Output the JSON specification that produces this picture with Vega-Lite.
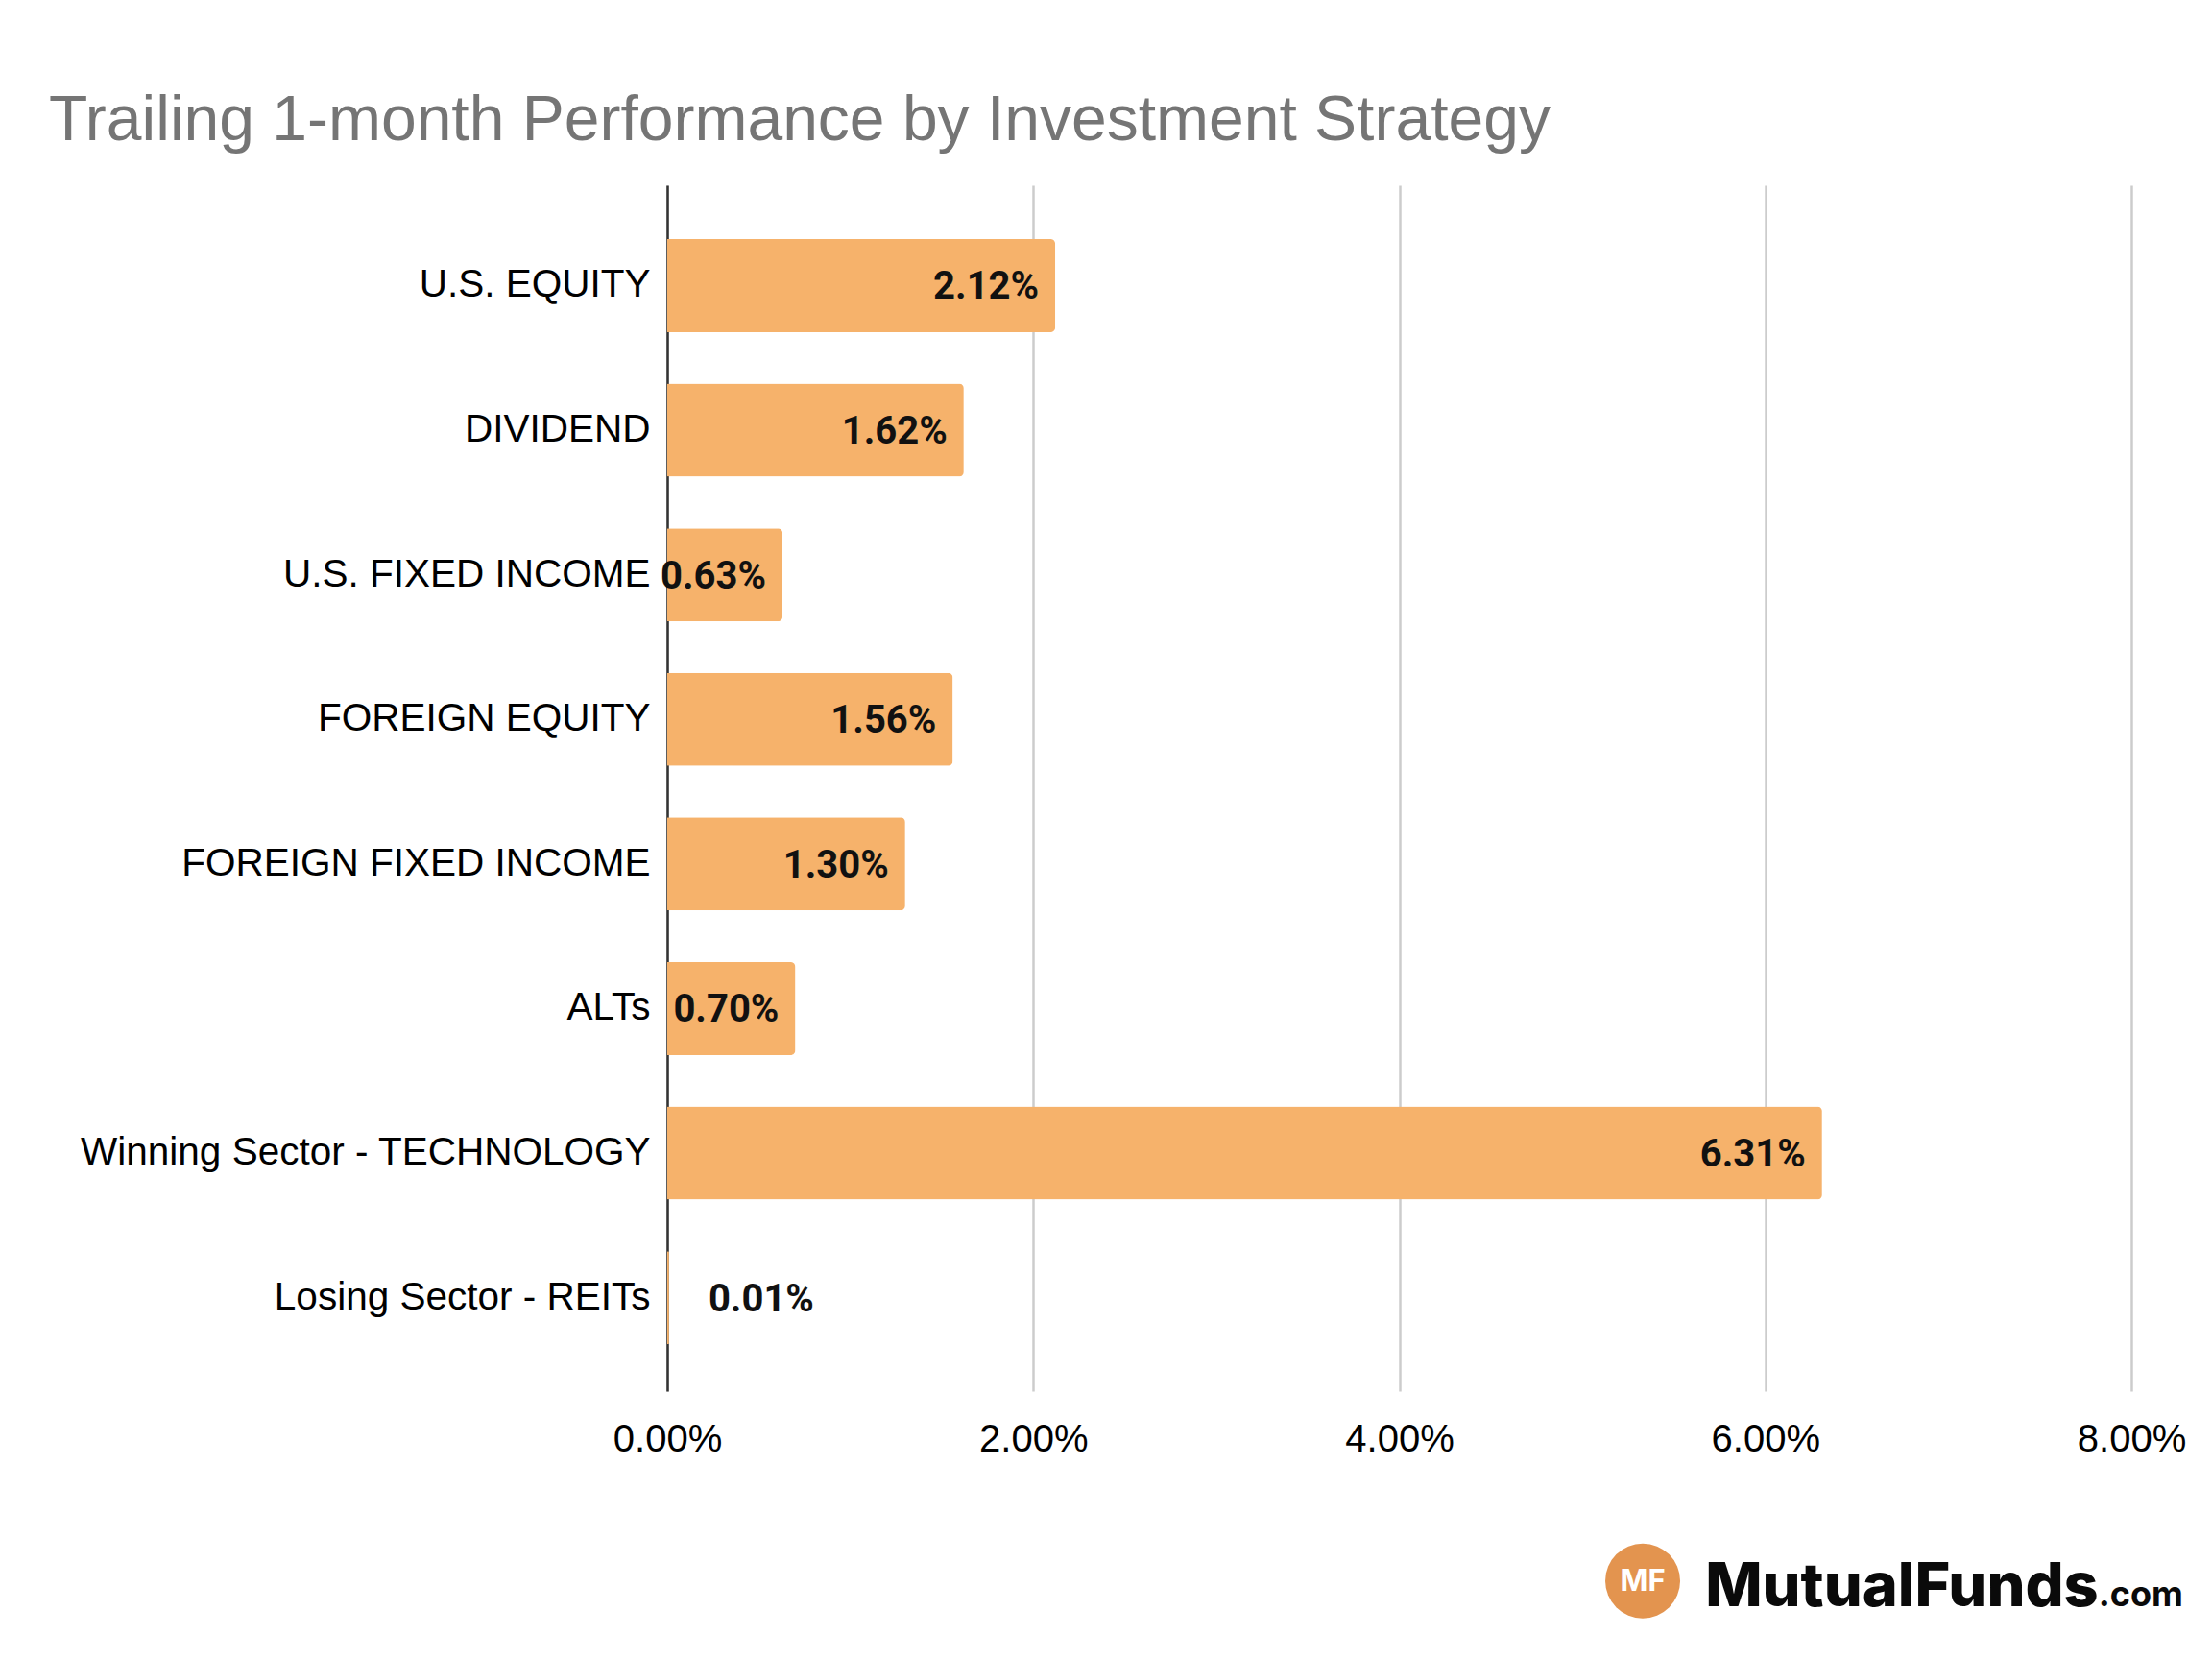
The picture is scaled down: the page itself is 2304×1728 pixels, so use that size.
{
  "$schema": "https://vega.github.io/schema/vega-lite/v6.json",
  "width": 1525,
  "height": 1256,
  "autosize": {"type": "none"},
  "padding": {"left": 695, "top": 193, "right": 84, "bottom": 279},
  "background": "white",
  "title": {
    "text": "Trailing 1-month Performance by Investment Strategy",
    "anchor": "start",
    "frame": "group",
    "dx": -644,
    "offset": -19,
    "baseline": "alphabetic",
    "font": "Liberation Sans",
    "fontSize": 66,
    "fontWeight": "normal",
    "color": "#757575"
  },
  "config": {
    "view": {"stroke": null},
    "axis": {"labelFont": "Liberation Sans", "labelColor": "#000000", "labelFontSize": 40.5}
  },
  "datasets": {
    "perf": [
      {"strategy": "U.S. EQUITY", "value": 0.0212},
      {"strategy": "DIVIDEND", "value": 0.0162},
      {"strategy": "U.S. FIXED INCOME", "value": 0.0063},
      {"strategy": "FOREIGN EQUITY", "value": 0.0156},
      {"strategy": "FOREIGN FIXED INCOME", "value": 0.013},
      {"strategy": "ALTs", "value": 0.007},
      {"strategy": "Winning Sector - TECHNOLOGY", "value": 0.0631},
      {"strategy": "Losing Sector - REITs", "value": 0.0001}
    ],
    "brand": [
      {"mark": "MF", "name": "MutualFunds", "suffix": ".com", "row": "Losing Sector - REITs"}
    ]
  },
  "layer": [
    {
      "data": {"name": "perf"},
      "mark": {"type": "bar", "color": "#F6B26B", "cornerRadiusEnd": 5},
      "encoding": {
        "y": {
          "field": "strategy",
          "type": "nominal",
          "sort": null,
          "scale": {"paddingInner": 0.356, "paddingOuter": 0.348, "align": 0.534},
          "axis": {
            "title": null,
            "ticks": false,
            "tickSize": 0,
            "grid": false,
            "domain": true,
            "domainColor": "#333333",
            "domainWidth": 2.5,
            "labelPadding": 18,
            "labelLimit": 900
          }
        },
        "x": {
          "field": "value",
          "type": "quantitative",
          "scale": {"domain": [0, 0.08], "nice": false},
          "axis": {
            "title": null,
            "values": [0, 0.02, 0.04, 0.06, 0.08],
            "format": ".2%",
            "domain": false,
            "ticks": false,
            "tickSize": 0,
            "grid": true,
            "gridColor": "#cccccc",
            "gridWidth": 2.5,
            "labelPadding": 30,
            "labelFontSize": 40,
            "labelFlush": false
          }
        }
      }
    },
    {
      "data": {"name": "perf"},
      "transform": [{"filter": "datum.value >= 0.001"}],
      "mark": {"type": "text", "align": "right", "baseline": "middle", "dx": -17, "dy": 2, "font": "Roboto", "fontWeight": "bold", "fontSize": 40, "color": "#111111"},
      "encoding": {
        "y": {"field": "strategy", "type": "nominal", "sort": null},
        "x": {"field": "value", "type": "quantitative"},
        "text": {"field": "value", "type": "quantitative", "format": ".2%"}
      }
    },
    {
      "data": {"name": "perf"},
      "transform": [{"filter": "datum.value < 0.001"}],
      "mark": {"type": "text", "align": "left", "baseline": "middle", "dx": 41, "dy": 2, "font": "Roboto", "fontWeight": "bold", "fontSize": 40, "color": "#111111"},
      "encoding": {
        "y": {"field": "strategy", "type": "nominal", "sort": null},
        "x": {"field": "value", "type": "quantitative"},
        "text": {"field": "value", "type": "quantitative", "format": ".2%"}
      }
    },
    {
      "data": {"name": "brand"},
      "mark": {"type": "point", "shape": "circle", "filled": true, "color": "#E3944F", "opacity": 1, "size": 6084, "yOffset": 295},
      "encoding": {
        "y": {"field": "row", "type": "nominal", "sort": null},
        "x": {"datum": 0.0533, "type": "quantitative"}
      }
    },
    {
      "data": {"name": "brand"},
      "mark": {"type": "text", "align": "center", "baseline": "middle", "yOffset": 296, "font": "Inter", "fontWeight": "bold", "fontSize": 31, "color": "#ffffff"},
      "encoding": {
        "y": {"field": "row", "type": "nominal", "sort": null},
        "x": {"datum": 0.0533, "type": "quantitative"},
        "text": {"field": "mark"}
      }
    },
    {
      "data": {"name": "brand"},
      "mark": {"type": "text", "align": "right", "baseline": "alphabetic", "yOffset": 321, "font": "Inter", "fontWeight": 800, "fontSize": 63, "color": "#0a0a0a"},
      "encoding": {
        "y": {"field": "row", "type": "nominal", "sort": null},
        "x": {"datum": 0.0782, "type": "quantitative"},
        "text": {"field": "name"}
      }
    },
    {
      "data": {"name": "brand"},
      "mark": {"type": "text", "align": "left", "baseline": "alphabetic", "yOffset": 321, "font": "Inter", "fontWeight": 700, "fontSize": 36, "color": "#0a0a0a"},
      "encoding": {
        "y": {"field": "row", "type": "nominal", "sort": null},
        "x": {"datum": 0.0782, "type": "quantitative"},
        "text": {"field": "suffix"}
      }
    }
  ]
}
